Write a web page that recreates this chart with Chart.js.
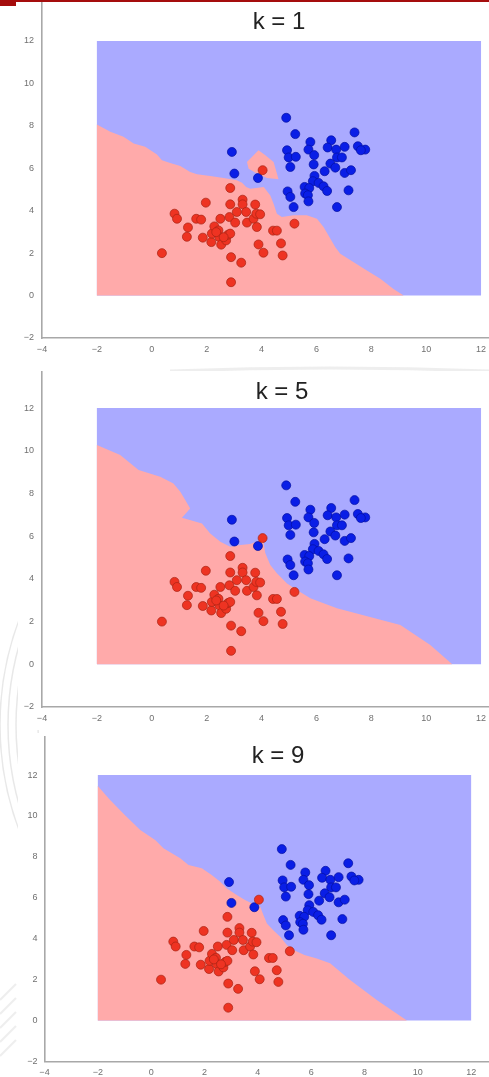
<!DOCTYPE html>
<html lang="en">
<head>
<meta charset="UTF-8">
<title>k-NN decision regions</title>
<script src="https://cdn.jsdelivr.net/npm/chart.js@4.4.0/dist/chart.umd.min.js"></script>
<style>
    html, body { margin: 0; padding: 0; background: #fff; }
    body { width: 489px; height: 1077px; position: relative; overflow: hidden;
           font-family: "Liberation Sans", Arial, sans-serif; }
    #seal { position: absolute; left: 0; top: 0; z-index: 0; }
    .panel { position: absolute; left: 18px; width: 471px; background: #fff; z-index: 1; }
    .title { position: absolute; width: 200px; text-align: center; font-size: 24px;
             line-height: 24px; color: #222; z-index: 3; }
    .bar { position: absolute; background: #a50d0d; z-index: 4; }
</style>
</head>
<body>
    <canvas id="seal" width="489" height="1077"></canvas>
    <div class="bar" style="left:0;top:0;width:489px;height:2px"></div>
    <div class="bar" style="left:0;top:0;width:16px;height:6px"></div>

    <div class="panel" style="top:0;height:364px"><canvas id="k1"></canvas></div>
    <div class="panel" style="top:371px;height:359px"><canvas id="k5"></canvas></div>
    <div class="panel" style="top:733px;height:344px"><canvas id="k9"></canvas></div>

    <div class="title" style="left:179px;top:9px">k = 1</div>
    <div class="title" style="left:182px;top:379px">k = 5</div>
    <div class="title" style="left:178px;top:743px">k = 9</div>

<script>
// training points, class 0 (red) and class 1 (blue)
var redX = [0.37, 0.83, 0.92, 1.32, 1.28, 1.62, 1.80, 1.97, 1.86, 2.17, 2.19, 2.28, 2.43, 2.46, 2.50,
            2.53, 2.71, 2.78, 2.86, 2.83, 2.86, 2.86, 3.04, 3.10, 3.31, 3.31, 3.44, 3.47, 3.71, 3.77,
            3.81, 3.95, 3.83, 2.89, 3.26, 2.89, 3.89, 4.07, 4.42, 4.56, 4.71, 4.77, 5.20, 4.04, 2.35, 2.62];
var redY = [2.00, 3.86, 3.62, 3.21, 2.77, 3.62, 3.58, 4.38, 2.73, 2.52, 2.92, 3.26, 3.07, 2.76, 3.62,
            2.40, 2.60, 2.87, 2.92, 3.70, 4.30, 5.07, 3.44, 3.94, 4.52, 4.30, 3.94, 3.44, 3.62, 4.29,
            3.86, 3.83, 3.23, 1.81, 1.55, 0.63, 2.41, 2.02, 3.06, 3.06, 2.46, 1.89, 3.39, 5.91, 2.99, 2.75];
var blueX = [4.90, 5.23, 7.39, 5.78, 6.54, 6.41, 6.72, 7.03, 7.51, 7.78, 7.62, 4.93, 5.71, 4.99, 5.25,
             5.92, 6.75, 6.93, 5.05, 5.90, 6.51, 6.69, 6.30, 7.03, 7.26, 5.93, 5.87, 6.08, 6.26, 5.57,
             5.74, 6.39, 4.95, 5.59, 5.05, 5.69, 5.71, 7.17, 5.17, 6.75, 3.87, 2.92, 3.01];
var blueY = [8.38, 7.61, 7.69, 7.24, 7.32, 6.98, 6.88, 7.01, 7.04, 6.88, 6.85, 6.85, 6.88, 6.51, 6.54,
             6.62, 6.51, 6.51, 6.06, 6.18, 6.22, 6.03, 5.86, 5.78, 5.91, 5.64, 5.39, 5.31, 5.15, 5.12,
             5.07, 4.93, 4.91, 4.81, 4.65, 4.73, 4.44, 4.96, 4.17, 4.17, 5.54, 6.77, 5.75];

// extent of the predicted mesh
var meshX = [-2, 12];
var meshY = [0, 12];

// red decision region for each k, traced left to right
var redRegionK1 = [[-2, 0], [-2, 8.06], [-1.51, 7.72], [-1.03, 7.48], [-0.66, 7.17], [-0.24, 7.01],
    [0.19, 6.65], [0.37, 6.38], [0.67, 6.25], [1.04, 6.11], [1.40, 5.83], [1.65, 5.72], [2.13, 5.64],
    [2.62, 5.54], [3.10, 5.43], [3.29, 5.32], [3.44, 5.12], [3.59, 5.04], [4.08, 5.12], [4.32, 4.72],
    [4.44, 4.33], [4.56, 3.86], [4.74, 3.70], [5.17, 3.78], [5.65, 3.78], [6.02, 3.62], [6.26, 3.23],
    [6.51, 2.68], [6.69, 2.28], [6.87, 1.97], [7.36, 1.57], [7.84, 1.18], [8.33, 0.79], [8.81, 0.31],
    [9.18, 0]];
// small red island around the stray red point (k = 1)
var redIslandK1 = [[3.47, 6.30], [3.53, 5.98], [3.83, 5.75], [4.20, 5.54], [4.62, 5.48], [4.44, 6.30],
    [4.14, 6.61], [3.89, 6.85], [3.47, 6.30], [4.62, 5.48]];
var redRegionK5 = [[-2, 0], [-2, 10.27], [-1.15, 9.80], [-0.48, 9.10], [0.31, 8.78], [0.79, 8.47],
    [1.04, 8.08], [1.22, 7.69], [1.40, 7.30], [1.10, 6.86], [1.83, 6.60], [2.13, 6.13], [2.50, 5.74],
    [2.86, 5.51], [3.23, 5.59], [3.59, 5.63], [3.89, 5.79], [4.05, 5.82], [4.14, 5.20], [4.32, 4.65],
    [4.56, 4.26], [4.93, 3.79], [5.29, 3.48], [5.78, 3.09], [6.26, 2.86], [6.75, 2.62], [7.23, 2.46],
    [9.06, 1.84], [10.15, 0.90], [10.95, 0]];
var redRegionK9 = [[-2, 0], [-2, 11.46], [-1.54, 10.78], [-0.98, 10.04], [-0.41, 9.31], [0.15, 8.82],
    [0.46, 8.42], [1.09, 7.93], [1.40, 7.60], [1.90, 7.44], [2.27, 7.11], [2.59, 6.78], [2.84, 6.46],
    [3.21, 6.14], [3.52, 5.89], [3.90, 5.65], [4.09, 5.56], [4.21, 5.16], [4.34, 4.75], [4.58, 4.42],
    [4.84, 4.10], [5.09, 3.69], [5.34, 3.45], [5.75, 3.20], [6.21, 3.04], [6.71, 2.80], [7.09, 2.39],
    [7.46, 1.98], [8.46, 1.00], [9.59, 0]];

var xTickMin = -4, yTickMin = -2, tickStep = 2;

var lightRed = '#ffaaaa', lightBlue = '#aaaaff';

function toXY(pairs) {
    return pairs.map(function (p) { return { x: p[0], y: p[1] }; });
}

function zipXY(xs, ys) {
    return xs.map(function (x, i) { return { x: x, y: ys[i] }; });
}

function region(pairs, color, order) {
    return {
        type: 'line',
        data: toXY(pairs),
        fill: 'shape',
        backgroundColor: color,
        borderWidth: 0,
        pointRadius: 0,
        pointHoverRadius: 0,
        tension: 0,
        order: order
    };
}

function minusSign(v) {
    return String(v).replace('-', '\u2212');
}

// cfg: chart area placement inside each panel canvas
function drawPanel(id, regions, cfg) {
    var mesh = [[meshX[0], meshY[0]], [meshX[0], meshY[1]], [meshX[1], meshY[1]], [meshX[1], meshY[0]]];
    var datasets = [
        {
            data: zipXY(redX, redY),
            pointRadius: 4.5,
            pointBackgroundColor: '#ee3322',
            pointBorderColor: '#a82414',
            pointBorderWidth: 0.7,
            order: 0
        },
        {
            data: zipXY(blueX, blueY),
            pointRadius: 4.5,
            pointBackgroundColor: '#0a1ee6',
            pointBorderColor: '#0410a0',
            pointBorderWidth: 0.7,
            order: 0
        },
        region(mesh, lightBlue, 10)
    ];
    regions.forEach(function (r, i) { datasets.push(region(r, lightRed, 5 - i)); });

    var tickFont = { family: 'Liberation Sans', size: 9 };

    new Chart(document.getElementById(id), {
        type: 'scatter',
        data: { datasets: datasets },
        options: {
            responsive: true,
            maintainAspectRatio: false,
            animation: false,
            events: [],
            layout: { autoPadding: false,
                      padding: { top: cfg.top, bottom: cfg.bottom, left: 0, right: 0 } },
            plugins: { legend: { display: false }, tooltip: { enabled: false } },
            scales: {
                x: {
                    type: 'linear',
                    min: xTickMin,
                    max: cfg.xMax,
                    grid: { display: false, drawTicks: false },
                    border: { display: true, color: '#a8a8a8', width: 1.6 },
                    ticks: { stepSize: tickStep, includeBounds: false, padding: 6,
                             color: '#707070', font: tickFont, maxRotation: 0,
                             callback: minusSign },
                    afterFit: function (s) {
                        s.height = cfg.xAxisH;
                        s.paddingLeft = 0;
                        s.paddingRight = 0;
                    }
                },
                y: {
                    type: 'linear',
                    min: yTickMin,
                    max: cfg.yMax,
                    grid: { display: false, drawTicks: false },
                    border: { display: true, color: '#a8a8a8', width: 1.6 },
                    ticks: { stepSize: tickStep, includeBounds: false, padding: cfg.yPad,
                             color: '#707070', font: tickFont, callback: minusSign },
                    afterFit: function (s) {
                        s.width = cfg.yAxisW;
                        s.paddingTop = 0;
                        s.paddingBottom = 0;
                    }
                }
            }
        }
    });
}

drawPanel('k1', [redRegionK1, redIslandK1],
    { top: 3, bottom: 6, xAxisH: 20, yAxisW: 24, yPad: 8, xMax: 12.29, yMax: 13.79 });
drawPanel('k5', [redRegionK5],
    { top: 1, bottom: 3, xAxisH: 20, yAxisW: 24, yPad: 8, xMax: 12.29, yMax: 13.69 });
drawPanel('k9', [redRegionK9],
    { top: 4, bottom: 0, xAxisH: 15.5, yAxisW: 26.5, yPad: 7, xMax: 12.67, yMax: 13.86 });

// faint seal printed behind the slide
var wm = document.getElementById('seal').getContext('2d');
wm.strokeStyle = 'rgba(90,90,90,0.14)';
wm.lineWidth = 1.5;
[300, 292, 284, 262].forEach(function (r) {
    wm.beginPath();
    wm.arc(300, 725, r, 0, Math.PI * 2);
    wm.stroke();
});
for (var a = 0; a < 360; a += 4) {
    var t = a * Math.PI / 180;
    wm.beginPath();
    wm.moveTo(300 + 265 * Math.cos(t), 725 + 265 * Math.sin(t));
    wm.lineTo(300 + 281 * Math.cos(t + 0.02), 725 + 281 * Math.sin(t + 0.02));
    wm.stroke();
}
wm.lineWidth = 3;
wm.strokeStyle = 'rgba(90,90,90,0.10)';
wm.beginPath();
wm.moveTo(170, 371);
wm.quadraticCurveTo(330, 365, 489, 371);
wm.stroke();
wm.lineWidth = 2;
for (var k = 0; k < 5; k++) {
    wm.beginPath();
    wm.moveTo(0, 1000 + k * 14);
    wm.lineTo(16, 984 + k * 14);
    wm.stroke();
}
</script>
</body>
</html>
